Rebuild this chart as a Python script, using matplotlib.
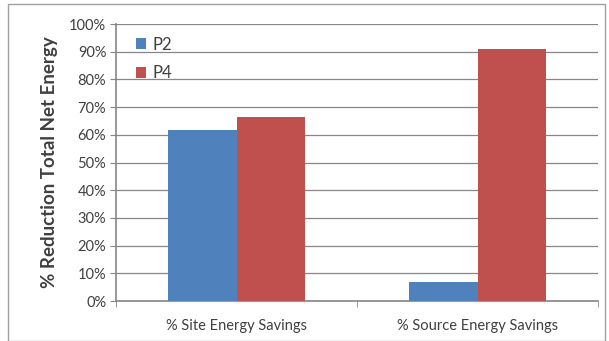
import numpy as np
import matplotlib.pyplot as plt
from matplotlib.patches import Rectangle
from matplotlib.ticker import FuncFormatter

plt.rcParams["font.family"] = ["Lato", "DejaVu Sans"]

categories = ["% Site Energy Savings", "% Source Energy Savings"]
p2_values = [61.8, 7.0]
p4_values = [66.5, 91.0]
series_names = ["P2", "P4"]

blue = "#4F81BD"
red = "#C0504D"
grid_grey = "#868686"
text_grey = "#404040"

fig = plt.figure(figsize=(6.09, 3.41), dpi=100)
ax = fig.add_axes([0.1905, 0.1173, 0.7915, 0.8123])

x = np.arange(len(categories))
width = 0.286
ax.bar(x - width / 2, p2_values, width, color=blue, label=series_names[0], zorder=3)
ax.bar(x + width / 2, p4_values, width, color=red, label=series_names[1], zorder=3)

ax.set_xlim(-0.5, 1.5)
ax.set_ylim(0, 100)
ax.set_yticks(np.arange(0, 101, 10))
ax.yaxis.set_major_formatter(FuncFormatter(lambda v, _: f"{v:.0f}%"))
ax.set_xticks(x)
ax.set_xticklabels(categories)
ax.set_xticks([-0.5, 0.5, 1.5], minor=True)
ax.tick_params(axis="x", which="major", length=0, pad=13, labelsize=10.5, labelcolor=text_grey)
ax.tick_params(axis="x", which="minor", length=4, color=grid_grey, direction="out")
ax.tick_params(axis="y", length=4, color=grid_grey, labelsize=10.5, labelcolor=text_grey, pad=3)

ax.grid(axis="y", color=grid_grey, linewidth=0.9, zorder=0)
ax.set_axisbelow(True)
for side in ["top", "right"]:
    ax.spines[side].set_visible(False)
for side in ["left", "bottom"]:
    ax.spines[side].set_color(grid_grey)
    ax.spines[side].set_linewidth(1.2)

ax.set_ylabel("% Reduction Total Net Energy", fontsize=13.5, fontweight="bold",
              color=text_grey, labelpad=8)

leg = ax.legend(loc="upper left", bbox_to_anchor=(0.02, 0.99), frameon=False,
                fontsize=12, handlelength=0.65, handleheight=0.65, handletextpad=0.35,
                labelspacing=0.75, borderaxespad=0.2)
for t in leg.get_texts():
    t.set_color(text_grey)

# outer chart border
fig.patches.append(Rectangle((8 / 609, 0.0), 597 / 609, 337 / 341,
                             transform=fig.transFigure, fill=False,
                             edgecolor="#A0A0A0", linewidth=1.0))

fig.savefig("out.png", dpi=100)
